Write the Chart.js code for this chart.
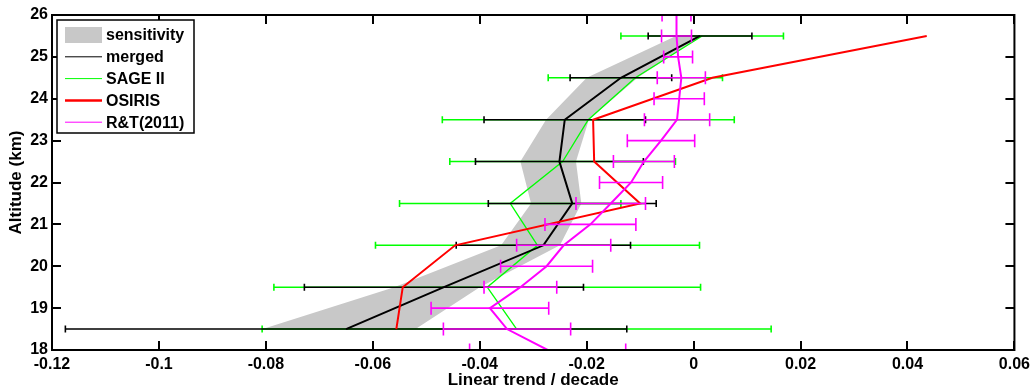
<!DOCTYPE html>
<html>
<head>
<meta charset="utf-8">
<script src="https://cdn.jsdelivr.net/npm/chart.js@4.4.0/dist/chart.umd.min.js"></script>
<style>
  html, body { margin: 0; padding: 0; background: #fff; }
</style>
</head>
<body>
<canvas id="trendChart" width="1035" height="392"></canvas>
<script>
// Altitude levels (km)
const altitudes = [18.5, 19.5, 20.5, 21.5, 22.5, 23.5, 24.5, 25.5];
const rtAltitudes = [18, 18.5, 19, 19.5, 20, 20.5, 21, 21.5, 22, 22.5, 23, 23.5, 24, 24.5, 25, 25.5, 26];

// Linear trend / decade
const sensLow  = [-0.0806, -0.056, -0.036, -0.0304, -0.0324, -0.0276, -0.020, -0.0033];
const sensHigh = [-0.052, -0.040, -0.025, -0.0210, -0.0220, -0.0196, -0.0105, 0.0015];
const merged    = [-0.0650, -0.0467, -0.0281, -0.0227, -0.0251, -0.0241, -0.0136, 0.0012];
const mergedErr = [0.0525, 0.0261, 0.0163, 0.0157, 0.0157, 0.0151, 0.0095, 0.0097];
const sage2     = [-0.0331, -0.0386, -0.0292, -0.0343, -0.0245, -0.0197, -0.0109, 0.0016];
const sage2Err  = [0.0476, 0.0399, 0.0303, 0.0207, 0.0211, 0.0273, 0.0163, 0.0152];
const osiris    = [-0.0556, -0.0544, -0.0446, -0.0100, -0.0186, -0.0188, 0.0035, 0.0436];
const rt2011    = [-0.0273, -0.0349, -0.0381, -0.0324, -0.0275, -0.0243, -0.0193, -0.0155, -0.0117,
                   -0.0093, -0.0061, -0.0031, -0.0027, -0.0023, -0.0029, -0.0032, -0.0032];
const rt2011Err = [0.0146, 0.0119, 0.0110, 0.0068, 0.0086, 0.0088, 0.0085, 0.0065, 0.0059,
                   0.0057, 0.0063, 0.0061, 0.0047, 0.0045, 0.0027, 0.0028, 0.0027];

const xTicks = [-0.12, -0.1, -0.08, -0.06, -0.04, -0.02, 0, 0.02, 0.04, 0.06];
const yTicks = [18, 19, 20, 21, 22, 23, 24, 25, 26];

const FONT = 'Arial, "Liberation Sans", sans-serif';

function pts(xs, ys) {
    return xs.map((v, i) => ({ x: v, y: ys[i] }));
}

// closed outline of the sensitivity band
const bandPts = pts(sensLow, altitudes).concat(pts(sensHigh, altitudes).reverse());

// horizontal error bars, drawn just before the dataset's own line
const errorBars = {
    id: 'errorBars',
    beforeDatasetDraw(chart, args) {
        const ds = chart.data.datasets[args.index];
        if (!ds.errors) return;
        const { ctx, chartArea: a } = chart;
        const xs = chart.scales.x, ys = chart.scales.y;
        const h = ds.capSize / 2;
        ctx.save();
        ctx.beginPath();
        ctx.rect(a.left, a.top, a.right - a.left, a.bottom - a.top);
        ctx.clip();
        ctx.strokeStyle = ds.borderColor;
        ctx.lineWidth = ds.errWidth;
        ctx.beginPath();
        ds.data.forEach((p, i) => {
            const e = ds.errors[i];
            const x0 = xs.getPixelForValue(p.x - e);
            const x1 = xs.getPixelForValue(p.x + e);
            const y = ys.getPixelForValue(p.y);
            ctx.moveTo(x0, y); ctx.lineTo(x1, y);
            ctx.moveTo(x0, y - h); ctx.lineTo(x0, y + h);
            ctx.moveTo(x1, y - h); ctx.lineTo(x1, y + h);
        });
        ctx.stroke();
        ctx.restore();
    }
};

// axes box, inward ticks and the boxed legend
const frame = {
    id: 'frame',
    afterDraw(chart) {
        const { ctx, chartArea: a } = chart;
        const xs = chart.scales.x, ys = chart.scales.y;
        ctx.save();
        ctx.strokeStyle = '#000';
        ctx.lineWidth = 2;
        ctx.beginPath();
        xTicks.forEach(v => {
            const px = Math.round(xs.getPixelForValue(v));
            ctx.moveTo(px, a.bottom); ctx.lineTo(px, a.bottom - 9);
            ctx.moveTo(px, a.top); ctx.lineTo(px, a.top + 9);
        });
        yTicks.forEach(v => {
            const py = Math.round(ys.getPixelForValue(v));
            ctx.moveTo(a.left, py); ctx.lineTo(a.left + 9, py);
            ctx.moveTo(a.right, py); ctx.lineTo(a.right - 9, py);
        });
        ctx.stroke();
        ctx.strokeRect(a.left, a.top, a.right - a.left, a.bottom - a.top);

        // legend
        const lx = 57, ly = 20, lw = 137, lh = 113;
        ctx.fillStyle = '#fff';
        ctx.fillRect(lx, ly, lw, lh);
        ctx.lineWidth = 1.5;
        ctx.strokeRect(lx, ly, lw, lh);
        ctx.font = 'bold 16px ' + FONT;
        ctx.textBaseline = 'middle';
        ctx.textAlign = 'left';
        const items = chart.data.datasets.slice().sort((p, q) => p.legendRank - q.legendRank);
        items.forEach((ds, i) => {
            const cy = ly + 15 + i * 21.8;
            if (ds.legendBox) {
                ctx.fillStyle = ds.backgroundColor;
                ctx.fillRect(65, cy - 8, 37, 16);
            } else {
                ctx.strokeStyle = ds.borderColor;
                ctx.lineWidth = ds.legendWidth;
                ctx.beginPath();
                ctx.moveTo(65, cy); ctx.lineTo(102, cy);
                ctx.stroke();
            }
            ctx.fillStyle = '#000';
            ctx.fillText(ds.label, 106, cy + 1);
        });
        ctx.restore();
    }
};

const ctx = document.getElementById('trendChart').getContext('2d');
new Chart(ctx, {
    type: 'scatter',
    data: {
        datasets: [
            {
                label: 'R&T(2011)',
                data: pts(rt2011, rtAltitudes),
                errors: rt2011Err,
                borderColor: '#ff00ff',
                borderWidth: 2,
                errWidth: 1.6,
                capSize: 13,
                legendWidth: 1,
                legendRank: 4,
                order: 0
            },
            {
                label: 'OSIRIS',
                data: pts(osiris, altitudes),
                borderColor: '#ff0000',
                borderWidth: 2,
                legendWidth: 2.5,
                legendRank: 3,
                order: 1
            },
            {
                label: 'merged',
                data: pts(merged, altitudes),
                errors: mergedErr,
                borderColor: '#000000',
                borderWidth: 2,
                errWidth: 1.6,
                capSize: 7,
                legendWidth: 1,
                legendRank: 1,
                order: 2
            },
            {
                label: 'SAGE II',
                data: pts(sage2, altitudes),
                errors: sage2Err,
                borderColor: '#00ff00',
                borderWidth: 1.3,
                errWidth: 1.6,
                capSize: 7,
                legendWidth: 1,
                legendRank: 2,
                order: 3
            },
            {
                label: 'sensitivity',
                data: bandPts,
                borderColor: 'rgba(0,0,0,0)',
                backgroundColor: '#c8c8c8',
                borderWidth: 0,
                fill: 'shape',
                legendBox: true,
                legendRank: 0,
                order: 4
            }
        ]
    },
    options: {
        responsive: false,
        devicePixelRatio: 1,
        animation: false,
        showLine: true,
        elements: {
            point: { radius: 0, hoverRadius: 0 },
            line: { tension: 0 }
        },
        layout: { padding: { top: 15, right: 19, left: 0, bottom: 0 } },
        plugins: {
            legend: { display: false },
            tooltip: { enabled: false }
        },
        scales: {
            x: {
                type: 'linear',
                min: -0.12,
                max: 0.06,
                afterBuildTicks: s => { s.ticks = xTicks.map(v => ({ value: v })); },
                afterFit: s => { s.height = 42; },
                grid: { display: false, drawTicks: false },
                border: { display: false },
                ticks: {
                    padding: 5,
                    color: '#000',
                    font: { family: FONT, size: 16, weight: 'bold' },
                    callback: v => String(+v.toFixed(2))
                },
                title: {
                    display: true,
                    text: 'Linear trend / decade',
                    color: '#000',
                    font: { family: FONT, size: 17, weight: 'bold' },
                    padding: { top: 0, bottom: 1 }
                }
            },
            y: {
                type: 'linear',
                min: 18,
                max: 26,
                afterBuildTicks: s => { s.ticks = yTicks.map(v => ({ value: v })); },
                afterFit: s => { s.width = 52; },
                grid: { display: false, drawTicks: false },
                border: { display: false },
                ticks: {
                    padding: 4,
                    color: '#000',
                    font: { family: FONT, size: 16, weight: 'bold' }
                },
                title: {
                    display: true,
                    text: 'Altitude (km)',
                    color: '#000',
                    font: { family: FONT, size: 17, weight: 'bold' },
                    padding: { top: 6, bottom: 0 }
                }
            }
        }
    },
    plugins: [errorBars, frame]
});
</script>
</body>
</html>
